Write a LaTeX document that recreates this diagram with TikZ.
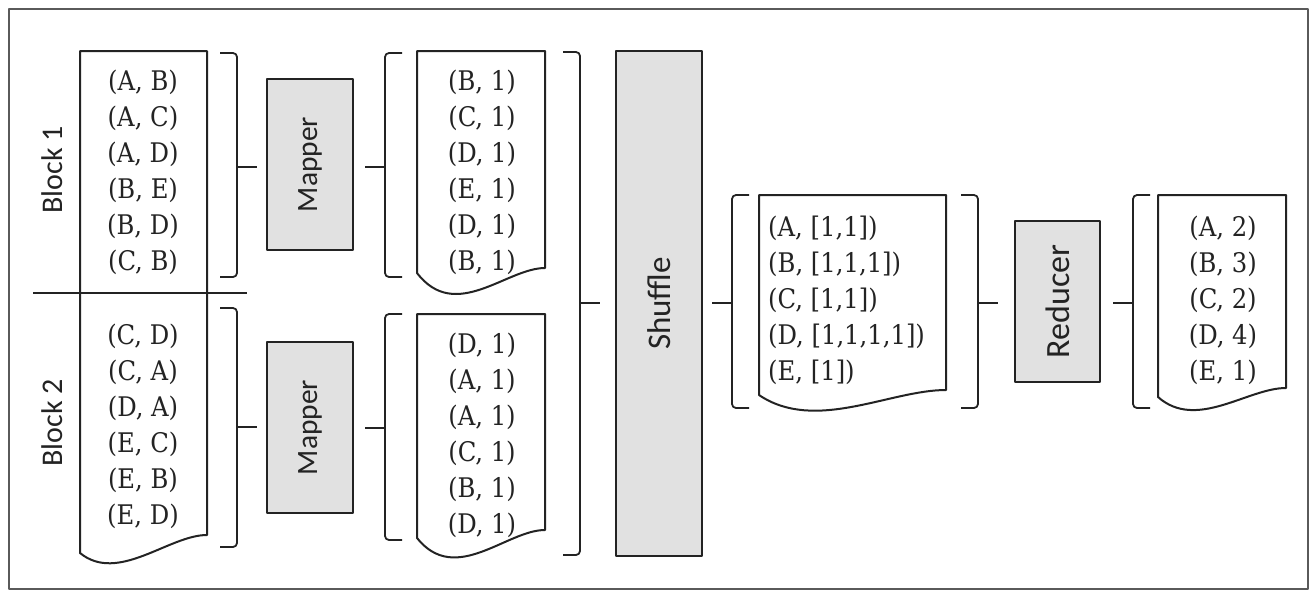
\documentclass[tikz,border=0pt]{standalone}
\usepackage{fontspec}
\usepackage{graphicx}
\setmainfont{DejaVu Serif Condensed}
\newfontfamily\labelfont{Carlito}
\usetikzlibrary{calc}
\definecolor{cbox}{RGB}{225,225,225}
\definecolor{cline}{RGB}{35,35,35}
\definecolor{cframe}{RGB}{90,90,90}

% document outline: x1, top, x2, left end, right end, dip of the wave
\newcommand{\docframe}[6]{%
  \draw[docline] (#1,#2) -- (#3,#2) -- (#3,#5)
    .. controls ({#1+0.7*(#3-#1)},#5) and ({#1+0.3*(#3-#1)},{#4+#6}) .. (#1,#4) -- cycle;}
% brackets: x, top, bottom, tick
\newcommand{\rbrak}[4]{%
  \draw[brak] (#1-17,#2) -- (#1,#2) -- (#1,#3) -- (#1-17,#3);
  \draw[brak] (#1,#4) -- (#1+20,#4);}
\newcommand{\lbrak}[4]{%
  \draw[brak] (#1+17,#2) -- (#1,#2) -- (#1,#3) -- (#1+17,#3);
  \draw[brak] (#1,#4) -- (#1-20,#4);}

\begin{document}
\begin{tikzpicture}[x=1pt, y=-1pt, line join=round,
    tuples/.style={font=\fontsize{27}{36}\selectfont, align=center, inner sep=0pt, text=cline},
    proc/.style={draw=cline, line width=2.4pt, fill=cbox, minimum width=86pt, inner sep=0pt, text=cline},
    lab/.style={font=\labelfont\fontsize{#1}{#1}\selectfont},
    docline/.style={draw=cline, line width=2pt},
    brak/.style={draw=cline, line width=1.8pt, rounded corners=4pt}]

  \useasboundingbox (0,0) rectangle (1312,592);
  \draw[cframe, line width=1.5pt] (9,9) rectangle (1308,589);

  % input blocks
  \node[tuples] (blk1) at (143,172) {(A, B)\\(A, C)\\(A, D)\\(B, E)\\(B, D)\\(C, B)};
  \node[tuples] (blk2) at (143,426) {(C, D)\\(C, A)\\(D, A)\\(E, C)\\(E, B)\\(E, D)};
  \node[lab=30, text=cline] (lab1) at (52,170) {\rotatebox{90}{Block 1}};
  \node[lab=30, text=cline] (lab2) at (52,423) {\rotatebox{90}{Block 2}};
  \docframe{80}{51}{207}{553}{535}{31}
  \draw[docline] (33,293) -- (247,293);

  % mappers
  \node[proc, lab=29.5, minimum height=171pt] (map1) at (310,164.5) {\rotatebox{90}{Mapper}};
  \node[proc, lab=29.5, minimum height=171pt] (map2) at (310,427.5) {\rotatebox{90}{Mapper}};
  \rbrak{237}{53}{277}{167}
  \rbrak{237}{308}{547}{427}

  % map output
  \node[tuples] (out1) at (482,172) {(B, 1)\\(C, 1)\\(D, 1)\\(E, 1)\\(D, 1)\\(B, 1)};
  \node[tuples] (out2) at (482,435) {(D, 1)\\(A, 1)\\(A, 1)\\(C, 1)\\(B, 1)\\(D, 1)};
  \docframe{417}{51}{545}{273}{268}{50}
  \docframe{417}{314}{545}{538}{530}{48}
  \lbrak{385}{53}{277}{167}
  \lbrak{385}{314}{540}{428}

  % shuffle
  \node[proc, lab=33, minimum height=505pt] (shuf) at (659,303.5) {\rotatebox{90}{Shuffle}};
  \rbrak{580}{52}{555}{303}
  \node[tuples, align=left, anchor=west] (grp) at (768,300) {(A, [1,1])\\(B, [1,1,1])\\(C, [1,1])\\(D, [1,1,1,1])\\(E, [1])};
  \docframe{759}{195}{946}{395}{390}{38}
  \lbrak{732}{195}{408}{303}

  % reducer
  \node[proc, lab=34, minimum width=85pt, minimum height=161pt] (red) at (1057.5,301.5) {\rotatebox{90}{Reducer}};
  \rbrak{978}{195}{408}{303}
  \node[tuples] (res) at (1223,300) {(A, 2)\\(B, 3)\\(C, 2)\\(D, 4)\\(E, 1)};
  \docframe{1158}{195}{1286}{397}{388}{34}
  \lbrak{1133}{195}{408}{303}
\end{tikzpicture}
\end{document}
